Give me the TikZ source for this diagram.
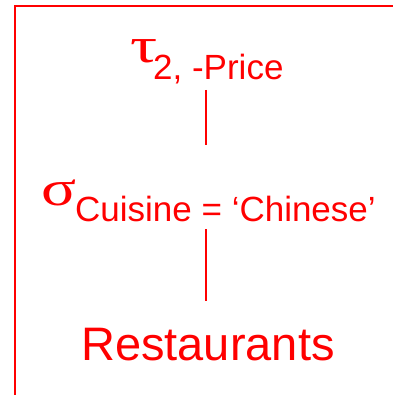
\documentclass[tikz,border=0pt]{standalone}
\usepackage{fontspec}
\setmainfont{Liberation Sans}
\newfontfamily\greekfont{Liberation Serif}
\begin{document}
\begin{tikzpicture}[x=1pt,y=-1pt,
  every node/.style={inner sep=0pt, text=red},
  lbl/.style={font=\fontsize{35}{40}\selectfont, anchor=base west},
  sym/.style={font=\greekfont\fontsize{50}{54}\selectfont, anchor=base west},
  link/.style={draw=red, line width=1.6pt},
  frame/.style={draw=red, line width=2pt}]
\useasboundingbox (0,0) rectangle (392,395);
% frame edges
\draw[frame] (14.5,400) -- (14.5,6.5) -- (400,6.5);
% sort operator
\node[sym] (tau) at (130,63) {\scalebox{1.35}[1]{τ}};
\node[lbl] (tauSub) at (153,80) {2, -Price};
% selection operator
\node[sym] (sigma) at (41,205) {\scalebox{1.3}[1]{σ}};
\node[lbl] (sigmaSub) at (75,221.5) {Cuisine = ‘Chinese’};
% base relation
\node[lbl, font=\fontsize{47}{52}\selectfont] (rest) at (81,360) {Restaurants};
% tree edges
\coordinate (e1a) at (206,90);
\coordinate (e1b) at (206,145);
\coordinate (e2a) at (206,229);
\coordinate (e2b) at (206,301);
\draw[link] (e1a) -- (e1b);
\draw[link] (e2a) -- (e2b);
\end{tikzpicture}
\end{document}
